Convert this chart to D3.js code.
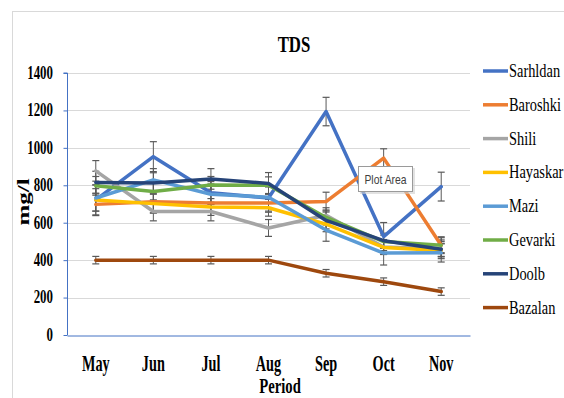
<!DOCTYPE html>
<html>
<head>
<meta charset="utf-8">
<script src="https://cdn.jsdelivr.net/npm/d3@7"></script>
<style>
  html, body { margin: 0; padding: 0; background: #fff; }
  svg { display: block; }
  .serif { font-family: "Liberation Serif", "Times New Roman", serif; }
</style>
</head>
<body>
<svg id="chart" width="564" height="398"></svg>
<script>
// Monthly TDS (mg/l) at eight stations
const months = ["May", "Jun", "Jul", "Aug", "Sep", "Oct", "Nov"];
const stations = ["Sarhldan", "Baroshki", "Shili", "Hayaskar", "Mazi", "Gevarki", "Doolb", "Bazalan"];
const colors = ["#4472C4", "#ED7D31", "#A5A5A5", "#FFC000", "#5B9BD5", "#70AD47", "#264478", "#9E480E"];

const sarhldan = [722, 953, 760, 732, 1194, 526, 793];
const baroshki = [698, 712, 705, 706, 713, 945, 480];
const shili    = [877, 660, 660, 572, 640, 470, 460];
const hayaskar = [722, 702, 684, 680, 592, 468, 452];
const mazi     = [732, 829, 752, 736, 561, 438, 440];
const gevarki  = [797, 767, 802, 800, 628, 499, 480];
const doolb    = [815, 812, 834, 810, 612, 504, 458];
const bazalan  = [400, 400, 400, 400, 330, 285, 232];

const errSarhldan = [80, 80, 60, 70, 76, 75, 77];
const errBaroshki = [60, 60, 50, 50, 50, 50, 40];
const errShili    = [55, 50, 50, 45, 40, 40, 40];
const errHayaskar = [60, 50, 45, 45, 40, 35, 35];
const errMazi     = [70, 60, 55, 55, 60, 64, 50];
const errGevarki  = [50, 45, 45, 45, 40, 35, 45];
const errDoolb    = [60, 55, 55, 58, 45, 40, 50];
const errBazalan  = [20, 20, 20, 20, 20, 20, 20];

const yTicks = [0, 200, 400, 600, 800, 1000, 1200, 1400];

const seriesValues = [sarhldan, baroshki, shili, hayaskar, mazi, gevarki, doolb, bazalan];
const seriesErrors = [errSarhldan, errBaroshki, errShili, errHayaskar, errMazi, errGevarki, errDoolb, errBazalan];

const series = stations.map((name, i) => ({
  name, color: colors[i],
  points: months.map((m, j) => ({ m, v: seriesValues[i][j], e: seriesErrors[i][j] }))
}));

const svg = d3.select("#chart");

// outer chart frame
svg.append("rect")
  .attr("x", 12.5).attr("y", 11.5).attr("width", 600).attr("height", 420)
  .attr("fill", "#fff").attr("stroke", "#d9d9d9");

const plot = { left: 67, right: 470, top: 73, bottom: 335 };

const x = d3.scaleBand().domain(months).range([plot.left, plot.right]);
const cx = m => x(m) + x.bandwidth() / 2;
const y = d3.scaleLinear().domain([0, 1400]).range([plot.bottom, plot.top]);

// narrow serif text, horizontally condensed by sx
function squeezedText(g, tx, ty, str, opts) {
  const sx = opts.sx || 0.7;
  const t = g.append("text")
    .attr("class", "serif")
    .attr("transform", `translate(${tx},${ty}) scale(${sx},1)` + (opts.rotate ? ` rotate(${opts.rotate})` : ""))
    .attr("text-anchor", opts.anchor || "start")
    .attr("font-size", opts.size)
    .attr("font-weight", opts.bold ? "bold" : "normal")
    .attr("fill", opts.fill || "#000")
    .text(str);
  if (opts.baseline) t.attr("dominant-baseline", opts.baseline);
  return t;
}

// gridlines
svg.append("g")
  .selectAll("line")
  .data(yTicks.filter(t => t > 0))
  .join("line")
  .attr("x1", plot.left).attr("x2", plot.right)
  .attr("y1", d => Math.round(y(d)) + 0.5).attr("y2", d => Math.round(y(d)) + 0.5)
  .attr("stroke", "#d9d9d9").attr("stroke-width", 1);

// y axis
const yAxis = svg.append("g")
  .attr("transform", `translate(${plot.left + 0.5},0)`)
  .call(d3.axisLeft(y).tickValues(yTicks).tickSize(4).tickFormat(""));
yAxis.selectAll("path, line").attr("stroke", "#4472C4");
yAxis.select(".domain").attr("d", `M-4,${y(1400)}H0V${y(0)}`);

yTicks.forEach(t => {
  squeezedText(svg, 53, y(t), String(t), { anchor: "end", size: 19, sx: 0.68, bold: true, baseline: "central" });
});

// x axis
const xAxis = svg.append("g")
  .attr("transform", `translate(0,${plot.bottom + 0.5})`)
  .call(d3.axisBottom(x).tickSize(0).tickFormat(""));
xAxis.select(".domain").attr("stroke", "#4472C4");

months.forEach(m => {
  squeezedText(svg, cx(m), 371, m, { anchor: "middle", size: 23, sx: 0.62, bold: true });
});

// axis titles
squeezedText(svg, 280, 393, "Period", { anchor: "middle", size: 21, sx: 0.7, bold: true });
squeezedText(svg, 29, 202, "mg/l", { anchor: "middle", size: 25, sx: 0.65, bold: true, rotate: -90 });

// chart title
squeezedText(svg, 294, 52, "TDS", { anchor: "middle", size: 24, sx: 0.7, bold: true });

// series: error bars then line
const line = d3.line().x(d => cx(d.m)).y(d => y(d.v));
const errG = svg.append("g");
const lineG = svg.append("g");

series.forEach(s => {
  const g = errG.append("g");
  s.points.forEach(p => {
    const xx = cx(p.m);
    const y1 = y(p.v + p.e), y2 = y(p.v - p.e);
    g.append("line").attr("x1", xx).attr("x2", xx).attr("y1", y1).attr("y2", y2)
      .attr("stroke", "#595959").attr("stroke-width", 1);
    [y1, y2].forEach(yy => {
      g.append("line").attr("x1", xx - 3.5).attr("x2", xx + 3.5).attr("y1", yy).attr("y2", yy)
        .attr("stroke", "#595959").attr("stroke-width", 1.2);
    });
  });
  lineG.append("path")
    .datum(s.points)
    .attr("d", line)
    .attr("fill", "none")
    .attr("stroke", s.color)
    .attr("stroke-width", 3.5)
    .attr("stroke-linejoin", "round")
    .attr("stroke-linecap", "round");
});

// legend
const legend = svg.append("g");
series.forEach((s, i) => {
  const ly = 71 + i * 33.8;
  legend.append("line")
    .attr("x1", 483).attr("x2", 508).attr("y1", ly).attr("y2", ly)
    .attr("stroke", s.color).attr("stroke-width", 3.5);
  squeezedText(legend, 509, ly, s.name, { size: 18, sx: 0.8, baseline: "central" });
});

// hover label box
const tip = svg.append("g");
tip.append("rect")
  .attr("x", 360).attr("y", 168).attr("width", 55).attr("height", 26)
  .attr("fill", "#cfcfcf").attr("opacity", 0.6);
tip.append("rect")
  .attr("x", 358.5).attr("y", 166.5).attr("width", 54).attr("height", 25)
  .attr("fill", "#fff").attr("stroke", "#9a9a9a");
tip.append("text")
  .attr("x", 385.5).attr("y", 179)
  .attr("text-anchor", "middle").attr("dominant-baseline", "central")
  .attr("font-family", "Liberation Sans, Arial, sans-serif")
  .attr("font-size", 13)
  .attr("transform", "translate(385.5,0) scale(0.8,1) translate(-385.5,0)")
  .attr("fill", "#404040")
  .text("Plot Area");
</script>
</body>
</html>
